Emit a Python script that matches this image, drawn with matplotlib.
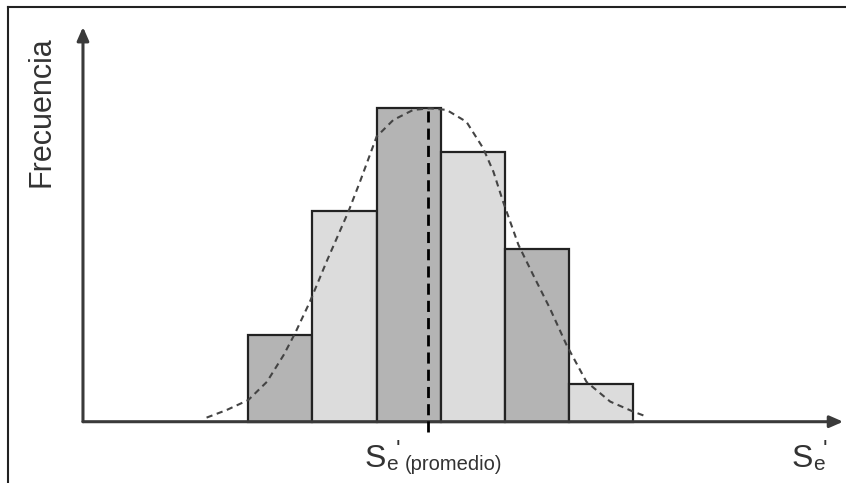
import matplotlib
matplotlib.use("Agg")
import matplotlib.pyplot as plt
from matplotlib.lines import Line2D

plt.rcParams['font.family'] = ['Liberation Sans', 'DejaVu Sans']

# histogram data (bin index -> frequency)
bin_left = [0, 1, 2, 3, 4, 5]
freq = [2.75, 6.7, 10.0, 8.6, 5.5, 1.2]
bar_colors = ['#b4b4b4', '#dcdcdc', '#b4b4b4', '#dcdcdc', '#b4b4b4', '#dcdcdc']

# dashed fitted curve
curve_x = [-0.65, -0.34, 0.0, 0.29, 0.55, 0.73, 0.96, 1.22, 1.56, 1.74, 2.00,
           2.26, 2.57, 2.83, 3.09, 3.40, 3.66, 3.82, 3.97, 4.21, 4.44, 4.70,
           4.96, 5.27, 5.64, 6.00, 6.21]
curve_y = [0.13, 0.37, 0.69, 1.27, 2.12, 2.82, 3.82, 5.10, 6.69, 7.64, 9.08,
           9.61, 9.93, 9.98, 9.93, 9.55, 8.71, 7.96, 7.01, 5.63, 4.67, 3.61,
           2.44, 1.27, 0.64, 0.32, 0.16]
mean_x = 2.80

fig = plt.figure(figsize=(8.46, 4.83), dpi=100)
ax = fig.add_axes([0, 0, 1, 1])
ax.set_xlim(-3.869, 9.314)
ax.set_ylim(-1.952, 13.43)
ax.axis('off')

# frame (only left and top visible)
fig.add_artist(Line2D([8/846, 8/846], [0, 1 - 7/483], color='#222222', lw=1.5))
fig.add_artist(Line2D([8/846, 1], [1 - 7/483, 1 - 7/483], color='#222222', lw=1.5))

ax.bar(bin_left, freq, width=1.0, align='edge', color=bar_colors,
       edgecolor='#222222', linewidth=1.6, zorder=2)

# axes with arrows
y_axis_x = -2.576
arrow = dict(arrowstyle='-|>,head_length=0.8,head_width=0.35',
             color='#3a3a3a', lw=2.2, shrinkA=0, shrinkB=0)
ax.annotate('', xy=(y_axis_x, 12.57), xytext=(y_axis_x, 0),
            arrowprops=arrow, zorder=3)
ax.annotate('', xy=(9.27, 0), xytext=(y_axis_x, 0),
            arrowprops=arrow, zorder=3)

ax.plot(curve_x, curve_y, color='#444444', lw=1.5, ls=(0, (3, 2.2)), zorder=4)
ax.plot([mean_x, mean_x], [-0.33, freq[2]], color='black', lw=2,
        ls=(0, (4, 2.2)), zorder=5)

txt = '#333333'
ax.text(-3.23, 9.89, 'Frecuencia', rotation=90, fontsize=22, color=txt,
        ha='center', va='center')


def se_label(x, y, sub):
    # big S, subscript e, prime, optional subscript text
    ax.text(x, y, 'S', fontsize=23, color=txt, ha='left', va='baseline')
    ax.annotate('e', (x, y), xytext=(21, -3), textcoords='offset pixels',
                fontsize=15, color=txt, ha='left', va='baseline')
    ax.annotate("'", (x, y), xytext=(31, 10), textcoords='offset pixels',
                fontsize=17, color=txt, ha='left', va='baseline')
    if sub:
        ax.annotate(sub, (x, y), xytext=(40, -3), textcoords='offset pixels',
                    fontsize=14.5, color=txt, ha='left', va='baseline')


# label positions in data units (baseline at ~467 px)
se_label((365 - 248.3) / 64.17, -(467 - 421.7) / 31.4, '(promedio)')
se_label((792 - 248.3) / 64.17, -(467 - 421.7) / 31.4, '')

fig.savefig('out.png', dpi=100)
